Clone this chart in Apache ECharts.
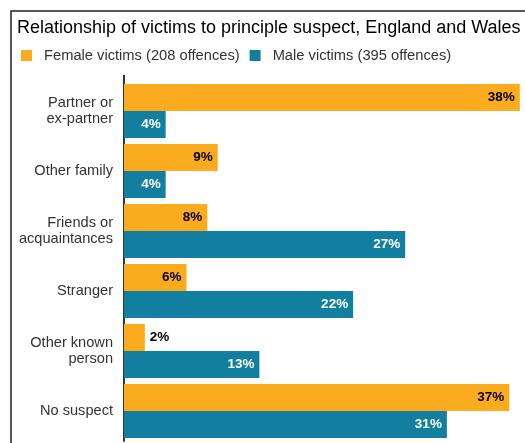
<!DOCTYPE html>
<html>
<head>
<meta charset="utf-8">
<style>
  html, body { margin: 0; padding: 0; background: #fff; }
  #chart { width: 525px; height: 443px; }
</style>
<script src="https://cdn.jsdelivr.net/npm/echarts@6/dist/echarts.min.js"></script>
</head>
<body>
<div id="chart"></div>
<script>
var categories = ['Partner or\nex-partner', 'Other family', 'Friends or\nacquaintances', 'Stranger', 'Other known\nperson', 'No suspect'];
var femaleValues = [38, 9, 8, 6, 2, 37];
var maleValues = [4, 4, 27, 22, 13, 31];
var seriesNames = ['Female victims (208 offences)', 'Male victims (395 offences)'];

var chart = echarts.init(document.getElementById('chart'), null, { renderer: 'canvas' });

// very small bars get their label outside the bar
function toItems(values, insideColor) {
  return values.map(function (v) {
    if (v < 3) {
      return { value: v, label: { position: 'right', color: '#000' } };
    }
    return { value: v, label: { position: 'insideRight', color: insideColor } };
  });
}

var option = {
  animation: false,
  textStyle: { fontFamily: 'Liberation Sans' },
  title: {
    text: 'Relationship of victims to principle suspect, England and Wales',
    left: 12,
    top: 14,
    textStyle: { fontSize: 18, fontWeight: 'normal', color: '#000', fontFamily: 'Liberation Sans' }
  },
  legend: {
    left: 16,
    top: 43,
    itemWidth: 11,
    itemHeight: 11,
    itemGap: 10,
    icon: 'rect',
    textStyle: { fontSize: 14.7, color: '#333', fontFamily: 'Liberation Sans', padding: [0, 0, 0, 7] },
    data: seriesNames
  },
  grid: { left: 124, right: 0, top: 81, bottom: 2, containLabel: false },
  xAxis: {
    type: 'value',
    min: 0,
    max: 38.5,
    show: false
  },
  yAxis: {
    type: 'category',
    inverse: true,
    data: categories,
    axisTick: { show: false },
    axisLine: { lineStyle: { color: '#333', width: 2 } },
    axisLabel: { fontSize: 14.6, color: '#333', margin: 11, lineHeight: 16, align: 'right' }
  },
  graphic: [
    {
      type: 'rect',
      shape: { x: 11, y: 11, width: 600, height: 500 },
      style: { fill: 'none', stroke: '#222', lineWidth: 1.5 },
      silent: true
    },
    {
      type: 'line',
      shape: { x1: 124, y1: 75, x2: 124, y2: 82 },
      style: { stroke: '#333', lineWidth: 2 },
      silent: true
    }
  ],
  series: [
    {
      name: seriesNames[0],
      type: 'bar',
      barGap: '0%',
      barCategoryGap: '10%',
      itemStyle: { color: '#faab1e' },
      label: {
        show: true,
        fontSize: 13.5,
        fontWeight: 'bold',
        distance: 5,
        formatter: '{c}%'
      },
      data: toItems(femaleValues, '#000')
    },
    {
      name: seriesNames[1],
      type: 'bar',
      barGap: '0%',
      barCategoryGap: '10%',
      itemStyle: { color: '#137fa0' },
      label: {
        show: true,
        fontSize: 13.5,
        fontWeight: 'bold',
        distance: 5,
        formatter: '{c}%'
      },
      data: toItems(maleValues, '#fff')
    }
  ]
};

chart.setOption(option);
window.addEventListener('resize', chart.resize);
</script>
</body>
</html>
